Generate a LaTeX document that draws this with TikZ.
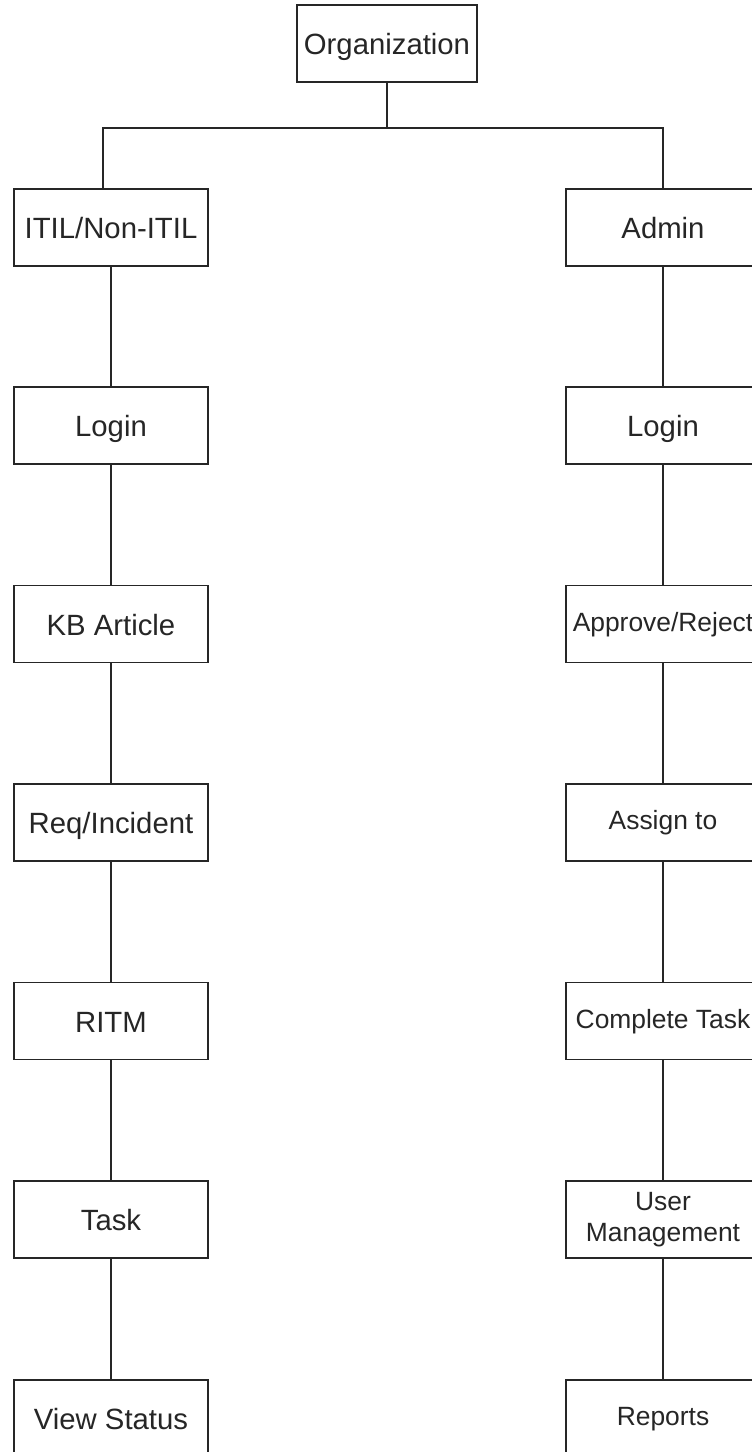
\documentclass[tikz,border=0pt]{standalone}
\usepackage{fontspec}
\setmainfont{Liberation Sans}
\begin{document}
\begin{tikzpicture}[x=1pt,y=-1pt,
  box/.style={draw=black!85,line width=1.4pt,rectangle,minimum width=194pt,minimum height=77pt,
    inner sep=0pt,align=center,text=black!85,font=\fontsize{29.3}{32}\selectfont,
    text height=29pt,text depth=7pt},
  small/.style={font=\fontsize{26.4}{31}\selectfont,text height=20pt,text depth=6pt},
  link/.style={draw=black!85,line width=1.4pt}]
  \useasboundingbox (0,0) rectangle (752,1452);
  \clip (0,0) rectangle (752,1452);
  \fill[white] (0,0) rectangle (752,1452);

  % root
  \node[box,minimum width=180pt] (org) at (387,43.5) {Organization};

  % left column
  \node[box] (itil)  at (111,227.5)  {ITIL/Non-ITIL};
  \node[box] (loginL) at (111,425.5) {Login};
  \node[box] (kb)    at (111,624)    {KB Article};
  \node[box] (req)   at (111,822.5)  {Req/Incident};
  \node[box] (ritm)  at (111,1021)   {RITM};
  \node[box] (task)  at (111,1219.5) {Task};
  \node[box] (view)  at (111,1418.5) {View Status};

  % right column
  \node[box] (admin)  at (663,227.5)  {Admin};
  \node[box] (loginR) at (663,425.5)  {Login};
  \node[box,small] (appr)   at (663,624)    {\makebox[0pt]{Approve/Reject}};
  \node[box,small] (assign) at (663,822.5)  {Assign to};
  \node[box,small] (done)   at (663,1021)   {\makebox[0pt]{Complete Task}};
  \node[box,small,text height=,text depth=] (users) at (663,1219.5) {User\\Management};
  \node[box,small] (rep)    at (663,1418.5) {Reports};

  % branch from the root
  \coordinate (bus) at (387,128);
  \coordinate (leftdrop) at (103,189);
  \draw[link] (org.south) -- (bus);
  \draw[link] (bus) -| (leftdrop);
  \draw[link] (bus) -| (admin.north);

  % chains
  \foreach \a/\b in {itil/loginL,loginL/kb,kb/req,req/ritm,ritm/task,task/view,
                     admin/loginR,loginR/appr,appr/assign,assign/done,done/users,users/rep}
    \draw[link] (\a.south) -- (\b.north);
\end{tikzpicture}
\end{document}
